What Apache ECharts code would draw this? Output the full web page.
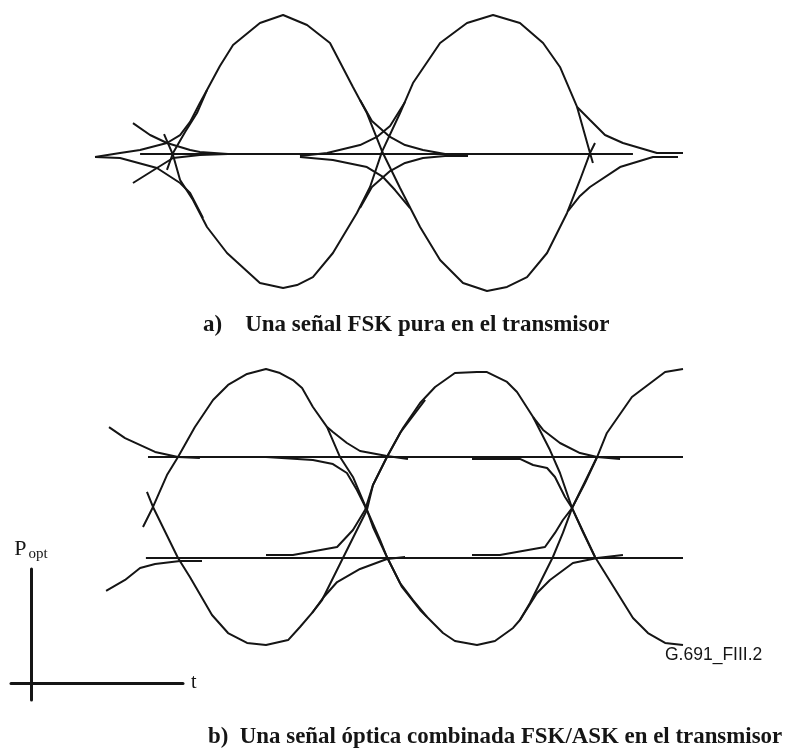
<!DOCTYPE html>
<html>
<head>
<meta charset="utf-8">
<title>G.691 Fig. III.2</title>
<script src="https://cdn.jsdelivr.net/npm/echarts@6/dist/echarts.min.js"></script>
<style>
  html, body { margin: 0; padding: 0; background: #fff; }
  #main { width: 795px; height: 749px; }
</style>
</head>
<body>
<div id="main"></div>
<script>
// t = time in bit periods, p = normalised optical field / power

// a) pure FSK eye
var fskTraceUp = [[-0.029,-0.116],[0,0.007],[0.058,0.160],[0.115,0.298],[0.163,0.465],[0.225,0.640],[0.288,0.793],[0.417,0.953],[0.528,1.011],[0.643,0.938],[0.753,0.807],[0.863,0.487],[0.930,0.298],[1.002,0.022],[1.089,-0.247],[1.185,-0.531],[1.281,-0.771],[1.391,-0.938],[1.506,-0.996],[1.602,-0.967],[1.698,-0.895],[1.794,-0.720],[1.890,-0.429],[1.952,-0.189],[2.000,0.007],[2.024,0.080]];
var fskTraceDown = [[-0.043,0.145],[0,-0.007],[0.034,-0.189],[0.096,-0.335],[0.163,-0.531],[0.259,-0.720],[0.417,-0.938],[0.528,-0.975],[0.595,-0.953],[0.671,-0.895],[0.767,-0.720],[0.882,-0.429],[0.945,-0.240],[1.002,0.015],[1.089,0.298],[1.151,0.516],[1.281,0.807],[1.410,0.953],[1.535,1.011],[1.664,0.953],[1.775,0.807],[1.856,0.633],[1.938,0.342],[2.000,0.007],[2.014,-0.065]];
var fskZero = [[-0.158,0],[2.206,0]];
var fskRiseLeft = [[-0.374,-0.022],[-0.254,0.007],[-0.158,0.029],[-0.029,0.080],[0.034,0.138],[0.082,0.233],[0.129,0.371],[0.163,0.465]];
var fskFallLeft = [[-0.374,-0.022],[-0.254,-0.029],[-0.077,-0.102],[0.034,-0.211],[0.082,-0.284],[0.144,-0.465]];
var fskSettleTopLeft = [[-0.192,0.225],[-0.110,0.138],[-0.029,0.080],[0.082,0.029],[0.129,0.015],[0.264,0]];
var fskSettleBotLeft = [[-0.192,-0.211],[-0.077,-0.102],[0,-0.029],[0.129,-0.007],[0.264,0]];
var fskSettleTopMid = [[0.897,0.393],[0.954,0.240],[1.041,0.124],[1.113,0.065],[1.199,0.029],[1.305,0],[1.415,-0.015]];
var fskSettleBotMid = [[0.897,-0.393],[0.954,-0.240],[1.041,-0.124],[1.113,-0.065],[1.199,-0.029],[1.305,-0.015],[1.415,-0.015]];
var fskRiseMid = [[0.609,-0.015],[0.739,0.007],[0.897,0.065],[0.978,0.124],[1.041,0.204],[1.113,0.378]];
var fskFallMid = [[0.609,-0.022],[0.767,-0.044],[0.930,-0.095],[1.007,-0.167],[1.065,-0.262],[1.137,-0.393]];
var fskSettleTopRight = [[1.938,0.342],[2.000,0.247],[2.072,0.138],[2.158,0.080],[2.321,0.007],[2.446,0.007]];
var fskSettleBotRight = [[1.894,-0.415],[1.952,-0.305],[2.000,-0.240],[2.144,-0.095],[2.302,-0.022],[2.422,-0.022]];

// b) combined FSK/ASK eye
var comboTraceA = [[-0.072,-0.142],[-0.024,0.004],[0.043,0.236],[0.096,0.367],[0.177,0.585],[0.264,0.782],[0.336,0.891],[0.427,0.971],[0.518,1.007],[0.585,0.978],[0.647,0.927],[0.691,0.869],[0.743,0.731],[0.811,0.585],[0.873,0.367],[0.935,0.222],[1.002,-0.018],[1.031,-0.142],[1.098,-0.360],[1.170,-0.578],[1.257,-0.745],[1.367,-0.913],[1.424,-0.971],[1.530,-1.000],[1.616,-0.971],[1.703,-0.876],[1.736,-0.818],[1.784,-0.695],[1.894,-0.360],[1.942,-0.185],[1.986,-0.004],[2.106,0.367],[2.153,0.542],[2.273,0.804],[2.432,0.985],[2.518,1.007]];
var comboTraceB = [[-0.053,0.113],[-0.024,0.004],[0.096,-0.367],[0.153,-0.505],[0.259,-0.782],[0.336,-0.913],[0.427,-0.985],[0.518,-1.000],[0.624,-0.964],[0.681,-0.869],[0.739,-0.767],[0.787,-0.673],[0.887,-0.367],[0.954,-0.164],[1.002,-0.018],[1.031,0.164],[1.098,0.367],[1.175,0.578],[1.257,0.760],[1.329,0.876],[1.424,0.978],[1.530,0.985],[1.578,0.985],[1.674,0.913],[1.722,0.840],[1.799,0.658],[1.880,0.418],[1.928,0.251],[1.986,-0.004],[2.096,-0.360],[2.278,-0.804],[2.350,-0.913],[2.432,-0.985],[2.518,-1.000]];
var comboHigh = [[-0.048,0.367],[2.518,0.367]];
var comboLow = [[-0.058,-0.367],[2.518,-0.367]];
var comboTailTopLeft = [[-0.235,0.585],[-0.158,0.505],[-0.014,0.404],[0.096,0.367],[0.201,0.360]];
var comboTailBotLeft = [[-0.249,-0.607],[-0.158,-0.527],[-0.086,-0.440],[-0.014,-0.411],[0.106,-0.389],[0.211,-0.389]];
var comboTailTop1 = [[0.811,0.585],[0.839,0.549],[0.906,0.469],[0.969,0.411],[1.098,0.375],[1.199,0.353]];
var comboTailBot1 = [[0.739,-0.767],[0.791,-0.658],[0.859,-0.542],[0.969,-0.447],[1.098,-0.375],[1.185,-0.360]];
var comboDrop1 = [[0.518,0.367],[0.743,0.345],[0.839,0.316],[0.906,0.251],[0.954,0.127],[1.002,-0.018],[1.065,-0.236],[1.098,-0.360],[1.161,-0.549],[1.223,-0.673],[1.290,-0.796]];
var comboLift1 = [[0.518,-0.345],[0.647,-0.345],[0.859,-0.287],[0.935,-0.164],[0.993,-0.018],[1.031,0.164],[1.098,0.367],[1.161,0.542],[1.281,0.782]];
var comboTailTop2 = [[1.799,0.658],[1.847,0.564],[1.928,0.469],[2.024,0.396],[2.106,0.367],[2.216,0.353]];
var comboTailBot2 = [[1.736,-0.818],[1.818,-0.622],[1.880,-0.527],[1.990,-0.404],[2.106,-0.367],[2.230,-0.345]];
var comboDrop2 = [[1.506,0.353],[1.736,0.353],[1.799,0.309],[1.866,0.287],[1.904,0.222],[1.952,0.076],[1.986,-0.004],[2.038,-0.178],[2.096,-0.360]];
var comboLift2 = [[1.506,-0.345],[1.640,-0.345],[1.856,-0.287],[1.904,-0.185],[1.942,-0.091],[1.986,-0.004],[2.048,0.178],[2.106,0.367]];

var fskStrokes = [fskTraceUp, fskTraceDown, fskZero, fskRiseLeft, fskFallLeft, fskSettleTopLeft, fskSettleBotLeft,
  fskSettleTopMid, fskSettleBotMid, fskRiseMid, fskFallMid, fskSettleTopRight, fskSettleBotRight];
var comboStrokes = [comboTraceA, comboTraceB, comboHigh, comboLow, comboTailTopLeft, comboTailBotLeft,
  comboTailTop1, comboTailBot1, comboDrop1, comboLift1, comboTailTop2, comboTailBot2, comboDrop2, comboLift2];

var ink = '#151515';

function stroke(data, idx, width) {
  return {
    type: 'line',
    xAxisIndex: idx,
    yAxisIndex: idx,
    data: data,
    showSymbol: false,
    symbol: 'none',
    silent: true,
    lineStyle: { color: ink, width: width || 2 },
    z: 2
  };
}

var series = [];
fskStrokes.forEach(function (d) { series.push(stroke(d, 0)); });
comboStrokes.forEach(function (d) { series.push(stroke(d, 1)); });
// the little P_opt / t reference axes carry no data, an empty series keeps grid 2 alive
series.push({ type: 'line', xAxisIndex: 2, yAxisIndex: 2, data: [], showSymbol: false });

var hidden = { show: false };
let option = {
  backgroundColor: '#ffffff',
  animation: false,
  title: [
    {
      text: 'a)    Una señal FSK pura en el transmisor',
      left: 203, top: 314, padding: 0,
      textStyle: { fontFamily: 'Liberation Serif', fontWeight: 'bold', fontSize: 23, color: ink }
    },
    {
      text: 'b)  Una señal óptica combinada FSK/ASK en el transmisor',
      left: 208, top: 726, padding: 0,
      textStyle: { fontFamily: 'Liberation Serif', fontWeight: 'bold', fontSize: 22.9, color: ink }
    },
    {
      text: 'G.691_FIII.2',
      left: 665, top: 646, padding: 0,
      textStyle: { fontFamily: 'Liberation Sans', fontWeight: 'normal', fontSize: 17.5, color: ink }
    }
  ],
  grid: [
    { left: 68.75, top: 2.75, width: 646.35, height: 302.5 },
    { left: 53.75, top: 356.25, width: 646.35, height: 302.5 },
    { left: 11, top: 569, width: 172, height: 131 }
  ],
  xAxis: [
    { type: 'value', gridIndex: 0, min: -0.5, max: 2.6, axisLine: hidden, axisTick: hidden, axisLabel: hidden, splitLine: hidden },
    { type: 'value', gridIndex: 1, min: -0.5, max: 2.6, axisLine: hidden, axisTick: hidden, axisLabel: hidden, splitLine: hidden },
    {
      type: 'value', gridIndex: 2, min: -0.132, max: 1,
      axisLine: { show: true, onZero: true, lineStyle: { color: ink, width: 3 } },
      axisTick: hidden, axisLabel: hidden, splitLine: hidden,
      name: 't', nameLocation: 'end', nameGap: 8,
      nameTextStyle: { fontFamily: 'Liberation Serif', fontSize: 20, color: ink }
    }
  ],
  yAxis: [
    { type: 'value', gridIndex: 0, min: -1.1, max: 1.1, axisLine: hidden, axisTick: hidden, axisLabel: hidden, splitLine: hidden },
    { type: 'value', gridIndex: 1, min: -1.1, max: 1.1, axisLine: hidden, axisTick: hidden, axisLabel: hidden, splitLine: hidden },
    {
      type: 'value', gridIndex: 2, min: -0.149, max: 1,
      axisLine: { show: true, onZero: true, lineStyle: { color: ink, width: 3 } },
      axisTick: hidden, axisLabel: hidden, splitLine: hidden,
      name: '{p|P}{s|opt}', nameLocation: 'end', nameGap: 7,
      nameTextStyle: {
        color: ink,
        rich: {
          p: { fontFamily: 'Liberation Serif', fontSize: 22, lineHeight: 24, verticalAlign: 'top', color: ink },
          s: { fontFamily: 'Liberation Serif', fontSize: 15, lineHeight: 24, verticalAlign: 'bottom', padding: [0, 0, 0, 2], color: ink }
        }
      }
    }
  ],
  series: series
};

let myChart = echarts.init(document.getElementById('main'), null, { renderer: 'canvas' });
myChart.setOption(option);
</script>
</body>
</html>
